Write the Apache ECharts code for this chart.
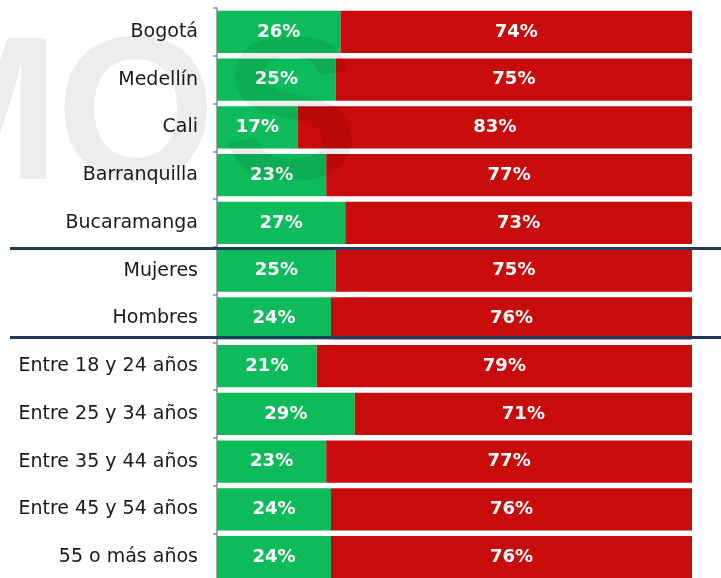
<!DOCTYPE html>
<html>
<head>
<meta charset="utf-8">
<script src="https://cdn.jsdelivr.net/npm/echarts@6/dist/echarts.min.js"></script>
<style>
  html, body { margin: 0; padding: 0; background: #fff; overflow: hidden; width: 721px; height: 578px; }
  #chart { width: 721px; height: 581px; }
</style>
</head>
<body>
<div id="chart"></div>
<script>
  // categorías (de arriba hacia abajo)
  const categories = [
    'Bogotá', 'Medellín', 'Cali', 'Barranquilla', 'Bucaramanga',
    'Mujeres', 'Hombres',
    'Entre 18 y 24 años', 'Entre 25 y 34 años', 'Entre 35 y 44 años',
    'Entre 45 y 54 años', '55 o más años',
  ];
  const greenValues = [26, 25, 17, 23, 27, 25, 24, 21, 29, 23, 24, 24];
  const redValues = [74, 75, 83, 77, 73, 75, 76, 79, 71, 77, 76, 76];

  const FONT = '"DejaVu Sans", sans-serif';
  const MARK_FONT = '"Liberation Sans", sans-serif';

  const chart = echarts.init(document.getElementById('chart'));

  const barLabel = {
    show: true,
    position: 'inside',
    color: '#fff',
    fontFamily: FONT,
    fontWeight: 'bold',
    fontSize: 18,
    formatter: p => `${p.value}%`,
  };

  // letras de la marca de agua, fondo gris
  const markLetter = (text, x) => ({
    type: 'text',
    silent: true,
    z: 100,
    style: {
      text,
      x,
      y: 20,
      textAlign: 'center',
      textBaseline: 'top',
      fontFamily: MARK_FONT,
      fontWeight: 'bold',
      fontSize: 205,
      fill: 'rgba(0,0,0,0.07)',
    },
  });

  chart.setOption({
    animation: false,
    backgroundColor: '#fff',
    grid: {
      top: 8,
      left: 217,
      right: 29,
      bottom: 0,
    },
    xAxis: {
      type: 'value',
      min: 0,
      max: 100,
      show: false,
    },
    yAxis: {
      type: 'category',
      inverse: true,
      data: categories,
      axisLine: {
        lineStyle: { color: '#8c8c8c', width: 1.5 },
      },
      axisTick: {
        show: true,
        length: 4,
        lineStyle: { color: '#8c8c8c', width: 1.5 },
      },
      axisLabel: {
        margin: 19,
        color: '#1a1a1a',
        fontFamily: FONT,
        fontSize: 19,
      },
    },
    series: [
      {
        name: 'verde',
        type: 'bar',
        stack: 'total',
        barCategoryGap: '12%',
        data: greenValues,
        itemStyle: { color: '#0ebb5a' },
        label: barLabel,
      },
      {
        name: 'rojo',
        type: 'bar',
        stack: 'total',
        barCategoryGap: '12%',
        data: redValues,
        itemStyle: { color: '#c80b0b' },
        label: barLabel,
      },
    ],
    graphic: [
      // marca de agua
      markLetter('M', -25),
      markLetter('O', 136),
      markLetter('S', 291),
      // separadores
      {
        type: 'line',
        z: 110,
        shape: { x1: 10, y1: 248.5, x2: 721, y2: 248.5 },
        style: { stroke: '#1f3d5a', lineWidth: 3 },
      },
      {
        type: 'line',
        z: 110,
        shape: { x1: 10, y1: 337.5, x2: 721, y2: 337.5 },
        style: { stroke: '#1f3d5a', lineWidth: 3 },
      },
    ],
  });
</script>
</body>
</html>
